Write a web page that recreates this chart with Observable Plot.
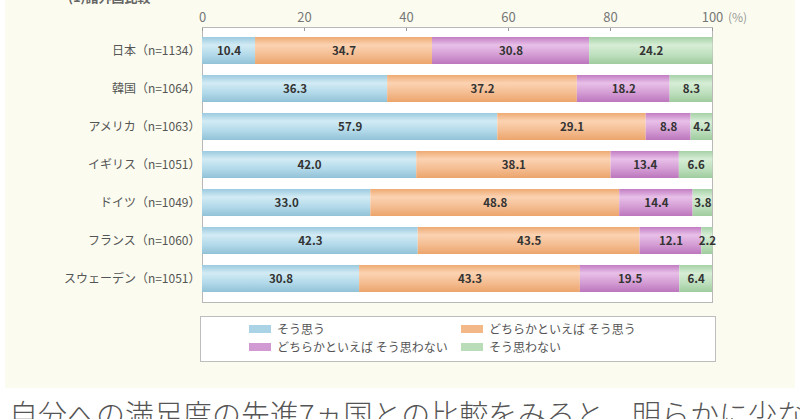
<!DOCTYPE html>
<html><head><meta charset="utf-8">
<script src="https://cdn.jsdelivr.net/npm/d3@7"></script>
<script src="https://cdn.jsdelivr.net/npm/@observablehq/plot@0.6"></script>
<style>
html,body{margin:0;padding:0;background:#fff;width:800px;height:419px;overflow:hidden;font-family:"Noto Sans CJK JP","Noto Sans",sans-serif;}
#panel{position:absolute;left:5px;top:0;width:790px;height:388px;background:#fbfcef;overflow:hidden;}
#title{position:absolute;left:63px;top:-13px;font-size:13px;font-weight:bold;color:#666;}
#chart{position:absolute;left:0;top:0;}
#legend{position:absolute;left:195px;top:316px;width:514px;height:44px;border:1px solid #bdbdbd;background:#fff;}
.li{position:absolute;font-size:12px;color:#555;line-height:14px;white-space:nowrap;}
.sw{display:inline-block;width:22px;height:8px;margin-right:6px;vertical-align:1px;}
#bottom{position:absolute;left:9px;top:396px;font-size:29px;line-height:34px;color:#555;white-space:nowrap;font-weight:300;}
</style></head>
<body>
<div id="panel"><div id="title">(1)諸外国比較</div><div id="chart"></div><div id="legend"></div></div>
<div id="bottom">自分への満足度の先進7ヵ国との比較をみると、明らかに少な</div>
<script>
const countries = ["日本（n=1134）","韓国（n=1064）","アメリカ（n=1063）","イギリス（n=1051）","ドイツ（n=1049）","フランス（n=1060）","スウェーデン（n=1051）"];
const categories = ["そう思う","どちらかといえば そう思う","どちらかといえば そう思わない","そう思わない"];
const agree        = [10.4, 36.3, 57.9, 42.0, 33.0, 42.3, 30.8];
const ratherAgree  = [34.7, 37.2, 29.1, 38.1, 48.8, 43.5, 43.3];
const ratherNot    = [30.8, 18.2,  8.8, 13.4, 14.4, 12.1, 19.5];
const disagree     = [24.2,  8.3,  4.2,  6.6,  3.8,  2.2,  6.4];
const xTicks = [0, 20, 40, 60, 80, 100];
const series = [agree, ratherAgree, ratherNot, disagree];

const grads = [
  ["#9bcadf","#d2ebf4","#b3daea","#92c2d7"],
  ["#eeaa74","#fbd3b2","#f4bd92","#eca56c"],
  ["#c27dc3","#e8c0e8","#d49dd4","#bc76bd"],
  ["#a6d1a6","#d6edd6","#bfe0bf","#9fcc9f"]
];
const solid = ["#aad4e5","#f3b887","#d29ad2","#b9ddb9"];

const rows = [];
countries.forEach((c, i) => categories.forEach((k, j) => rows.push({country: c, cat: k, ci: j, value: series[j][i]})));

const chart = Plot.plot({
  width: 790, height: 305,
  marginLeft: 197, marginRight: 83, marginTop: 27, marginBottom: 3,
  style: {fontFamily: '"Noto Sans CJK JP","Noto Sans",sans-serif', background: "transparent"},
  x: {domain: [0, 100], label: null},
  y: {domain: countries, range: [37, 298], paddingInner: 0.28, paddingOuter: 0, align: 0, label: null},
  color: {type: "identity"},
  marks: [
    Plot.frame({fill: "#fff", stroke: "#b8b8b8"}),
    Plot.barX(rows, Plot.stackX({x: "value", y: "country", z: "cat", order: categories, fill: d => `url(#g${d.ci})`})),
    Plot.text(rows, Plot.stackX({x: "value", y: "country", z: "cat", order: categories, text: d => d.value.toFixed(1), fill: "#333", fontSize: 11.5, fontWeight: "bold"})),
    Plot.axisX(xTicks, {anchor: "top", tickSize: -3, text: null, stroke: "#999", label: null}),
    Plot.axisX(xTicks, {anchor: "top", tickSize: 0, tickPadding: 6, fontSize: 13, fill: "#777", label: null}),
    Plot.text(["(%)"], {x: () => 100, frameAnchor: "top", dy: -14, dx: 25, fill: "#999", fontSize: 12}),
    Plot.axisY({tickSize: 0, tickPadding: 2, fontSize: 12, fill: "#555", label: null})
  ]
});
const svg = d3.select(chart);
const defs = svg.insert("defs", ":first-child");
grads.forEach((g, i) => {
  const lg = defs.append("linearGradient").attr("id", "g" + i).attr("x1", 0).attr("y1", 0).attr("x2", 0).attr("y2", 1);
  [[0, g[0]], [0.3, g[1]], [0.65, g[2]], [1, g[3]]].forEach(([o, c]) => lg.append("stop").attr("offset", o).attr("stop-color", c));
});
document.getElementById("chart").appendChild(chart);

const legend = document.getElementById("legend");
const pos = [[48, 5], [260, 5], [48, 23], [260, 23]];
categories.forEach((k, j) => {
  const d = document.createElement("div");
  d.className = "li";
  d.style.left = pos[j][0] + "px"; d.style.top = pos[j][1] + "px";
  d.innerHTML = `<span class="sw" style="background:${solid[j]}"></span>${k}`;
  legend.appendChild(d);
});
</script>
</body></html>
